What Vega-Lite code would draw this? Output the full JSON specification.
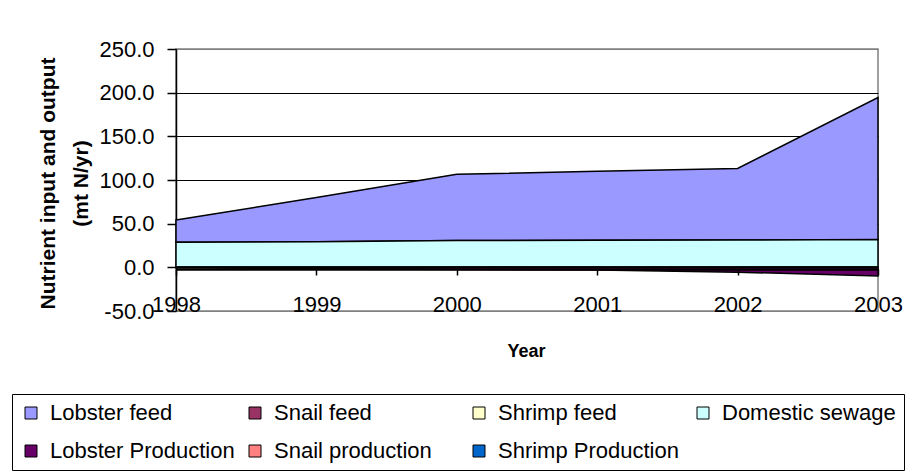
{
  "$schema": "https://vega.github.io/schema/vega-lite/v6.json",
  "autosize": "none",
  "width": 702,
  "height": 262,
  "padding": {"left": 176, "top": 49, "right": 36, "bottom": 162},
  "background": "white",
  "config": {
    "font": "Liberation Sans",
    "view": {"stroke": "#808080", "strokeWidth": 1.5}
  },
  "data": {
    "values": [
      {"year": "1998", "series": "Lobster feed", "value": 25.6},
      {"year": "1999", "series": "Lobster feed", "value": 50.5},
      {"year": "2000", "series": "Lobster feed", "value": 76.0},
      {"year": "2001", "series": "Lobster feed", "value": 79.0},
      {"year": "2002", "series": "Lobster feed", "value": 82.0},
      {"year": "2003", "series": "Lobster feed", "value": 162.5},
      {"year": "1998", "series": "Snail feed", "value": 0},
      {"year": "1999", "series": "Snail feed", "value": 0},
      {"year": "2000", "series": "Snail feed", "value": 0},
      {"year": "2001", "series": "Snail feed", "value": 0},
      {"year": "2002", "series": "Snail feed", "value": 0},
      {"year": "2003", "series": "Snail feed", "value": 0},
      {"year": "1998", "series": "Shrimp feed", "value": 0},
      {"year": "1999", "series": "Shrimp feed", "value": 0},
      {"year": "2000", "series": "Shrimp feed", "value": 0},
      {"year": "2001", "series": "Shrimp feed", "value": 0},
      {"year": "2002", "series": "Shrimp feed", "value": 0},
      {"year": "2003", "series": "Shrimp feed", "value": 0},
      {"year": "1998", "series": "Domestic sewage", "value": 28.6},
      {"year": "1999", "series": "Domestic sewage", "value": 29.4},
      {"year": "2000", "series": "Domestic sewage", "value": 30.6},
      {"year": "2001", "series": "Domestic sewage", "value": 30.9},
      {"year": "2002", "series": "Domestic sewage", "value": 31.3},
      {"year": "2003", "series": "Domestic sewage", "value": 32.0},
      {"year": "1998", "series": "Lobster Production", "value": -0.5},
      {"year": "1999", "series": "Lobster Production", "value": -1.5},
      {"year": "2000", "series": "Lobster Production", "value": -2.5},
      {"year": "2001", "series": "Lobster Production", "value": -3.0},
      {"year": "2002", "series": "Lobster Production", "value": -5.5},
      {"year": "2003", "series": "Lobster Production", "value": -10.0},
      {"year": "1998", "series": "Snail production", "value": 0},
      {"year": "1999", "series": "Snail production", "value": 0},
      {"year": "2000", "series": "Snail production", "value": 0},
      {"year": "2001", "series": "Snail production", "value": 0},
      {"year": "2002", "series": "Snail production", "value": 0},
      {"year": "2003", "series": "Snail production", "value": 0},
      {"year": "1998", "series": "Shrimp Production", "value": 0},
      {"year": "1999", "series": "Shrimp Production", "value": 0},
      {"year": "2000", "series": "Shrimp Production", "value": 0},
      {"year": "2001", "series": "Shrimp Production", "value": 0},
      {"year": "2002", "series": "Shrimp Production", "value": 0},
      {"year": "2003", "series": "Shrimp Production", "value": 0}
    ]
  },
  "transform": [
    {"calculate": "indexof(['Snail feed','Shrimp feed','Snail production','Shrimp Production','Domestic sewage','Lobster feed','Lobster Production'], datum.series)", "as": "ord"}
  ],
  "mark": {"type": "area", "stroke": "black", "strokeWidth": 1.5, "opacity": 1, "fillOpacity": 1},
  "encoding": {
    "x": {
      "field": "year",
      "type": "ordinal",
      "scale": {"type": "point", "padding": 0},
      "axis": {
        "title": "Year",
        "titleFont": "Liberation Sans",
        "titleFontSize": 18,
        "titleFontWeight": "bold",
        "titleColor": "black",
        "titleX": 350,
        "titleY": 87,
        "titleAnchor": "middle",
        "titleBaseline": "alphabetic",
        "offset": -42,
        "zindex": 1,
        "labelAngle": 0,
        "labelFont": "Liberation Sans",
        "labelFontSize": 22,
        "labelColor": "black",
        "labelPadding": 19,
        "labelOverlap": false,
        "labelBound": false,
        "labelFlush": false,
        "tickSize": 6,
        "tickColor": "black",
        "tickWidth": 1.5,
        "domainColor": "black",
        "domainWidth": 2.5,
        "grid": false
      }
    },
    "y": {
      "field": "value",
      "type": "quantitative",
      "stack": "zero",
      "scale": {"domain": [-50, 250], "nice": false, "zero": false},
      "axis": {
        "title": ["Nutrient input and output", "(mt N/yr)"],
        "titleFont": "Liberation Sans",
        "titleFontSize": 21,
        "titleFontWeight": "bold",
        "titleColor": "black",
        "titleLineHeight": 33,
        "titleAngle": -90,
        "titleAnchor": "middle",
        "titleBaseline": "top",
        "titleX": -139,
        "titleY": 134,
        "values": [-50, 0, 50, 100, 150, 200, 250],
        "labelExpr": "datum.value < 0 ? '-' + format(-datum.value, '.1f') : format(datum.value, '.1f')",
        "labelFont": "Liberation Sans",
        "labelFontSize": 22,
        "labelColor": "black",
        "labelPadding": 13,
        "tickSize": 9,
        "tickColor": "black",
        "tickWidth": 1.5,
        "domainColor": "black",
        "domainWidth": 1.5,
        "grid": true,
        "gridColor": {"condition": {"test": "datum.value >= 250 || datum.value <= -50", "value": "#808080"}, "value": "black"},
        "gridWidth": 1.2,
        "zindex": 0
      }
    },
    "color": {
      "field": "series",
      "type": "nominal",
      "scale": {
        "domain": ["Lobster feed", "Snail feed", "Shrimp feed", "Domestic sewage", "Lobster Production", "Snail production", "Shrimp Production"],
        "range": ["#9999FF", "#993366", "#FFFFCC", "#CCFFFF", "#660066", "#FF8080", "#0066CC"]
      },
      "legend": {
        "title": null,
        "orient": "none",
        "direction": "horizontal",
        "legendX": -164,
        "legendY": 345,
        "columns": 4,
        "gridAlign": "all",
        "columnPadding": 9,
        "rowPadding": 16,
        "padding": 8,
        "strokeColor": "black",
        "symbolType": "square",
        "symbolSize": 144,
        "symbolStrokeColor": "black",
        "symbolStrokeWidth": 1,
        "symbolOpacity": 1,
        "labelFont": "Liberation Sans",
        "labelFontSize": 22,
        "labelColor": "black",
        "labelOffset": 8,
        "labelLimit": 400
      }
    },
    "order": {"field": "ord", "type": "quantitative"}
  }
}
